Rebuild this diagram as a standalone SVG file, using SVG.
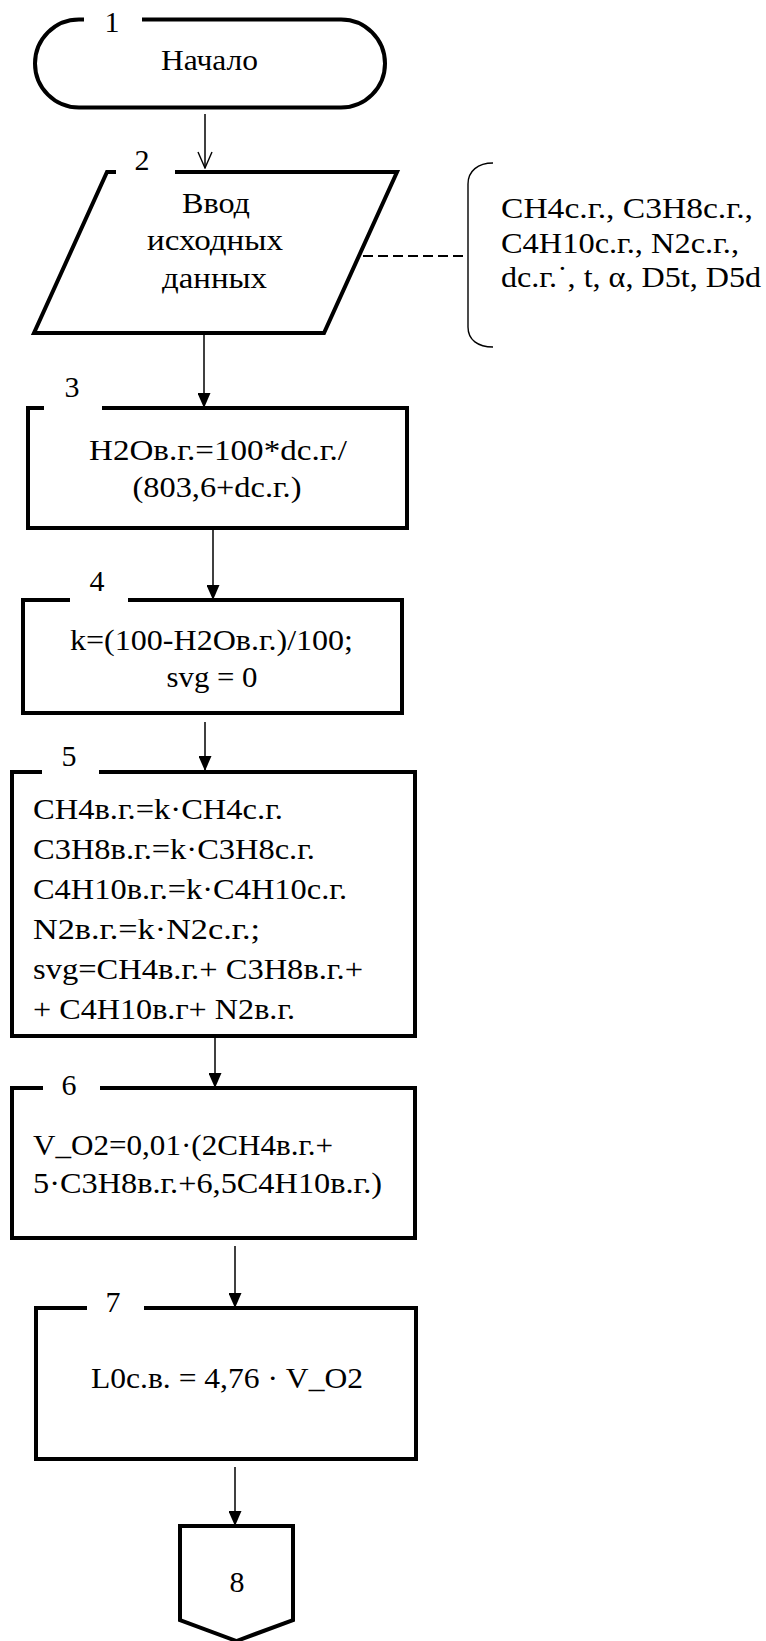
<svg xmlns="http://www.w3.org/2000/svg" width="766" height="1641" viewBox="0 0 766 1641">
<style>
text{font-family:"Liberation Serif","Times New Roman",serif;fill:#000}
.t{font-size:30px}
.c{text-anchor:middle}
.n{font-size:30px;text-anchor:middle}
.shape{fill:none;stroke:#000;stroke-width:4;stroke-linejoin:miter}
.conn{fill:none;stroke:#000;stroke-width:1.5}
.dash{fill:none;stroke:#000;stroke-width:2;stroke-dasharray:10 5}
.thin{fill:none;stroke:#000;stroke-width:1.4}
</style>
<defs>
<marker id="arr" viewBox="0 0 15 13" refX="15" refY="6.5" markerWidth="15" markerHeight="13" markerUnits="userSpaceOnUse" orient="auto">
<path d="M0,0 L15,6.5 L0,13 Z" fill="#000"/>
</marker>
<marker id="open" viewBox="-1 -1 18 16" refX="16" refY="7" markerWidth="18" markerHeight="16" markerUnits="userSpaceOnUse" orient="auto">
<path d="M0,0 L16,7 L0,14" fill="none" stroke="#000" stroke-width="1.4"/>
</marker>
</defs>
<rect width="766" height="1641" fill="#fff"/>

<g id="connectors">
<path class="conn" d="M205,114 V168" marker-end="url(#open)"/>
<path class="conn" d="M204,333 V408" marker-end="url(#arr)"/>
<path class="conn" d="M213,528 V600" marker-end="url(#arr)"/>
<path class="conn" d="M205,722 V771" marker-end="url(#arr)"/>
<path class="conn" d="M215,1036 V1088" marker-end="url(#arr)"/>
<path class="conn" d="M235,1246 V1308" marker-end="url(#arr)"/>
<path class="conn" d="M235,1467 V1526" marker-end="url(#arr)"/>
<path class="dash" d="M363,256 H468"/>
</g>

<g id="node1">
<path class="shape" d="M142,19.5 H341 A44,44 0 0 1 341,107.5 H79 A44,44 0 0 1 79,19.5 H84"/>
<text class="n" x="112" y="32">1</text>
<text class="t c" x="209.5" y="70" textLength="97" lengthAdjust="spacingAndGlyphs">Начало</text>
</g>

<g id="node2">
<path class="shape" d="M175,172 H397 L324,333 H34 L107,172 H116"/>
<text class="n" x="142" y="170">2</text>
<text class="t c" x="216" y="213" textLength="68" lengthAdjust="spacingAndGlyphs">Ввод</text>
<text class="t c" x="215" y="250" textLength="136" lengthAdjust="spacingAndGlyphs">исходных</text>
<text class="t c" x="214.5" y="288" textLength="105" lengthAdjust="spacingAndGlyphs">данных</text>
</g>

<g id="annotation">
<path class="thin" d="M493,163 C478,163 468,171 468,184 V327 C468,340 478,347 493,347"/>
<text class="t" x="501" y="218" textLength="252" lengthAdjust="spacingAndGlyphs">CH4с.г., C3H8с.г.,</text>
<text class="t" x="501" y="253" textLength="238" lengthAdjust="spacingAndGlyphs">C4H10с.г., N2с.г.,</text>
<text class="t" x="501" y="287" textLength="260" lengthAdjust="spacingAndGlyphs">dс.г.˙, t, α, D5t, D5d</text>
</g>

<g id="node3">
<path class="shape" d="M102,408 H407 V528 H28 V408 H44"/>
<text class="n" x="72" y="397">3</text>
<text class="t c" x="218" y="460" textLength="258" lengthAdjust="spacingAndGlyphs">H2Oв.г.=100*dс.г./</text>
<text class="t c" x="217" y="497" textLength="169" lengthAdjust="spacingAndGlyphs">(803,6+dс.г.)</text>
</g>

<g id="node4">
<path class="shape" d="M128,600 H402 V713 H23 V600 H70"/>
<text class="n" x="97" y="591">4</text>
<text class="t c" x="211.5" y="650" textLength="283" lengthAdjust="spacingAndGlyphs">k=(100-H2Oв.г.)/100;</text>
<text class="t c" x="212" y="687" textLength="91" lengthAdjust="spacingAndGlyphs">svg = 0</text>
</g>

<g id="node5">
<path class="shape" d="M99,772 H415 V1036 H12 V772 H42"/>
<text class="n" x="69" y="766">5</text>
<text class="t" x="33" y="819" textLength="250" lengthAdjust="spacingAndGlyphs">CH4в.г.=k·CH4с.г.</text>
<text class="t" x="33" y="859" textLength="282" lengthAdjust="spacingAndGlyphs">C3H8в.г.=k·C3H8с.г.</text>
<text class="t" x="33" y="899" textLength="314" lengthAdjust="spacingAndGlyphs">C4H10в.г.=k·C4H10с.г.</text>
<text class="t" x="33" y="939" textLength="227" lengthAdjust="spacingAndGlyphs">N2в.г.=k·N2с.г.;</text>
<text class="t" x="33" y="979" textLength="330" lengthAdjust="spacingAndGlyphs">svg=CH4в.г.+ C3H8в.г.+</text>
<text class="t" x="33" y="1019" textLength="262" lengthAdjust="spacingAndGlyphs">+ C4H10в.г+ N2в.г.</text>
</g>

<g id="node6">
<path class="shape" d="M100,1088 H415 V1238 H12 V1088 H43"/>
<text class="n" x="69" y="1095">6</text>
<text class="t" x="33" y="1155" textLength="300" lengthAdjust="spacingAndGlyphs">V_O2=0,01·(2CH4в.г.+</text>
<text class="t" x="33" y="1193" textLength="349" lengthAdjust="spacingAndGlyphs">5·C3H8в.г.+6,5C4H10в.г.)</text>
</g>

<g id="node7">
<path class="shape" d="M144,1308 H416 V1459 H36 V1308 H87"/>
<text class="n" x="113" y="1312">7</text>
<text class="t c" x="227" y="1388" textLength="272" lengthAdjust="spacingAndGlyphs">L0с.в. = 4,76 · V_O2</text>
</g>

<g id="node8">
<path class="shape" d="M180,1526 H293 V1620 L236.5,1641 L180,1620 Z"/>
<text class="n" x="237" y="1592">8</text>
</g>
</svg>
